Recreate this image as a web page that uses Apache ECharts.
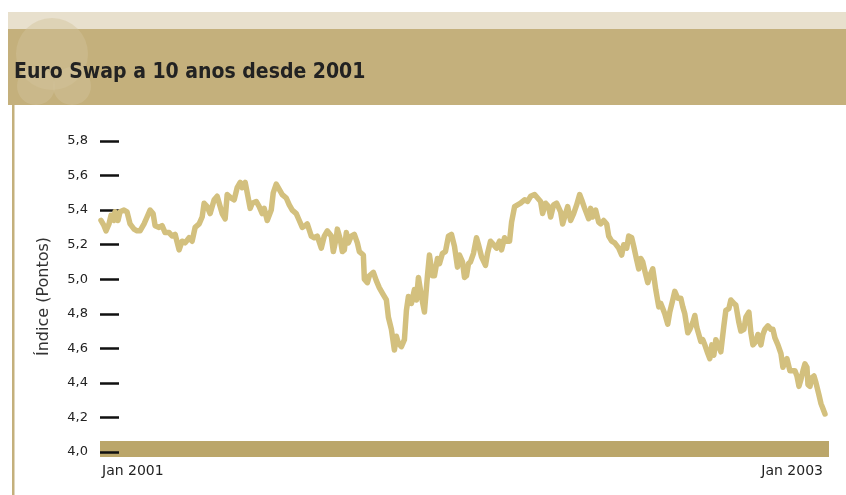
<!DOCTYPE html>
<html>
<head>
<meta charset="utf-8">
<script src="https://cdn.jsdelivr.net/npm/echarts@6/dist/echarts.min.js"></script>
<style>
html,body{margin:0;padding:0;background:#fff;}
#chart{width:846px;height:495px;}
</style>
</head>
<body>
<div id="chart"></div>
<script>
// Days since 1 Jan 2001
const days = [1,4,6,9,11,14,15,18,20,24,27,30,34,37,40,44,47,50,53,55,59,62,65,69,72,75,79,82,85,89,92,95,99,102,104,107,110,114,117,
118,122,125,127,131,134,137,140,142,145,147,150,152,156,159,162,164,167,171,173,176,179,182,186,189,192,196,199,202,205,207,211,214,217,221,224,227,231,233,236,237,240,
242,244,246,248,251,254,257,259,263,264,267,269,273,276,279,283,286,288,291,294,296,298,301,304,306,308,311,314,316,318,321,324,327,329,332,334,337,339,342,345,348,351,354,357,359,362,
364,366,368,370,373,376,378,381,385,387,390,393,396,399,401,404,406,409,411,414,417,420,424,427,430,434,437,440,442,445,448,450,453,456,460,462,465,467,470,473,476,479,481,484,
488,490,492,495,498,500,503,506,508,511,514,518,521,523,526,528,531,533,536,538,540,542,544,547,549,552,553,555,558,560,562,564,567,569,572,574,577,580,582,584,587,589,592,594,596,598,600,602,604,607,
609,611,613,615,618,620,623,625,628,630,633,635,638,640,643,645,648,650,652,655,657,660,662,664,667,670,672,674,677,680,682,684,686,689,691,694,696,698,700,702,704,706,707,709,711,713,715,718,720,722,724];
const values = [5.34,5.31,5.28,5.32,5.37,5.34,5.39,5.34,5.39,5.40,5.39,5.32,5.29,5.28,5.28,5.32,5.36,5.40,5.38,5.31,5.30,5.31,5.27,5.27,5.25,5.26,5.17,5.22,5.21,5.24,5.22,5.30,5.32,5.36,5.44,5.42,5.38,5.46,5.48,
5.48,5.38,5.35,5.49,5.47,5.46,5.53,5.56,5.53,5.56,5.50,5.41,5.44,5.45,5.42,5.38,5.41,5.34,5.40,5.50,5.55,5.52,5.49,5.47,5.43,5.40,5.38,5.34,5.30,5.31,5.32,5.25,5.24,5.25,5.18,5.25,5.28,5.25,5.16,5.24,5.29,5.23,
5.16,5.17,5.27,5.21,5.25,5.26,5.21,5.16,5.14,5.00,4.98,5.02,5.04,4.99,4.95,4.91,4.88,4.78,4.71,4.59,4.67,4.63,4.61,4.65,4.82,4.90,4.86,4.94,4.88,5.01,4.90,4.81,5.02,5.14,5.02,5.02,5.12,5.09,5.15,5.16,5.25,5.26,5.19,5.07,5.14,5.10,
5.01,5.02,5.09,5.10,5.15,5.24,5.20,5.13,5.08,5.15,5.22,5.20,5.18,5.22,5.17,5.24,5.22,5.22,5.33,5.42,5.43,5.44,5.46,5.45,5.48,5.49,5.47,5.45,5.38,5.44,5.42,5.36,5.43,5.44,5.39,5.32,5.38,5.42,5.34,5.38,5.43,5.49,5.46,5.41,
5.35,5.41,5.36,5.40,5.33,5.32,5.34,5.32,5.25,5.22,5.21,5.18,5.14,5.20,5.18,5.25,5.24,5.19,5.11,5.06,5.12,5.10,5.05,4.98,5.02,5.06,5.02,4.94,4.84,4.86,4.83,4.80,4.74,4.81,4.88,4.93,4.89,4.89,4.84,4.80,4.69,4.71,4.75,4.79,4.72,4.68,4.64,4.65,4.62,4.57,
4.54,4.62,4.56,4.65,4.61,4.58,4.73,4.82,4.83,4.88,4.86,4.85,4.75,4.70,4.71,4.78,4.81,4.69,4.62,4.64,4.68,4.62,4.68,4.71,4.73,4.71,4.71,4.66,4.62,4.57,4.49,4.52,4.54,4.47,4.47,4.47,4.44,4.38,4.42,4.47,4.51,4.49,4.39,4.38,4.43,4.44,4.40,4.33,4.28,4.25,4.22];
const xTickLabels = ['Jan 2001', 'Jan 2003'];
const yTickLabels = ['4,0','4,2','4,4','4,6','4,8','5,0','5,2','5,4','5,6','5,8'];
const titleText = 'Euro Swap a 10 anos desde 2001';
const yAxisName = 'Índice (Pontos)';

const chart = echarts.init(document.getElementById('chart'), null, {renderer: 'canvas'});
const gold = '#C4B07C';
chart.setOption({
  backgroundColor: '#ffffff',
  animation: false,
  title: {
    text: titleText,
    left: 14, top: 62, padding: 0,
    textStyle: {fontFamily: 'DejaVu Sans Condensed', fontWeight: 'bold', fontSize: 21, color: '#222222'}
  },
  graphic: {elements: [
    {type: 'rect', z: -10, shape: {x: 8, y: 12, width: 838, height: 17}, style: {fill: '#E8E0CD'}},
    {type: 'rect', z: -10, shape: {x: 8, y: 29, width: 838, height: 76}, style: {fill: gold}},
    {type: 'circle', z: -9, shape: {cx: 52, cy: 54, r: 36}, style: {fill: '#D2C49C', opacity: 0.45}},
    {type: 'circle', z: -9, shape: {cx: 36, cy: 86, r: 19}, style: {fill: '#D2C49C', opacity: 0.45}},
    {type: 'circle', z: -9, shape: {cx: 72, cy: 86, r: 19}, style: {fill: '#D2C49C', opacity: 0.45}},
    {type: 'rect', z: -10, shape: {x: 12, y: 105, width: 2.5, height: 390}, style: {fill: gold}},
    {type: 'rect', z: -10, shape: {x: 100, y: 441, width: 729, height: 16}, style: {fill: '#BBA66A'}}
  ]},
  grid: {left: 100, right: 15, top: 141, bottom: 43, containLabel: false},
  xAxis: {
    type: 'value', min: 0, max: 730, interval: 730,
    axisLine: {show: false}, axisTick: {show: false}, splitLine: {show: false},
    axisLabel: {
      show: true, margin: 12, color: '#222222', fontFamily: 'DejaVu Sans', fontSize: 14,
      alignMinLabel: 'left', alignMaxLabel: 'right', padding: [0, 8, 0, 2],
      formatter: function (v) { return v === 0 ? xTickLabels[0] : xTickLabels[1]; }
    }
  },
  yAxis: {
    type: 'value', min: 4.0, max: 5.8, interval: 0.2,
    name: yAxisName, nameLocation: 'middle', nameGap: 48, nameRotate: 90,
    nameTextStyle: {fontFamily: 'DejaVu Sans', fontSize: 16, color: '#333333'},
    axisLine: {show: false},
    axisTick: {show: true, inside: true, length: 19, lineStyle: {color: '#111111', width: 2.5}},
    splitLine: {show: false},
    axisLabel: {
      margin: 12, color: '#222222', fontFamily: 'DejaVu Sans', fontSize: 13,
      formatter: function (v) { return yTickLabels[Math.round((v - 4.0) / 0.2)]; }
    }
  },
  series: [{
    type: 'line', showSymbol: false, symbol: 'none', smooth: false,
    data: days.map((d, i) => [d, values[i]]),
    lineStyle: {color: '#D3C07E', width: 5.5, cap: 'round', join: 'round'},
    z: 5
  }]
});
</script>
</body>
</html>
